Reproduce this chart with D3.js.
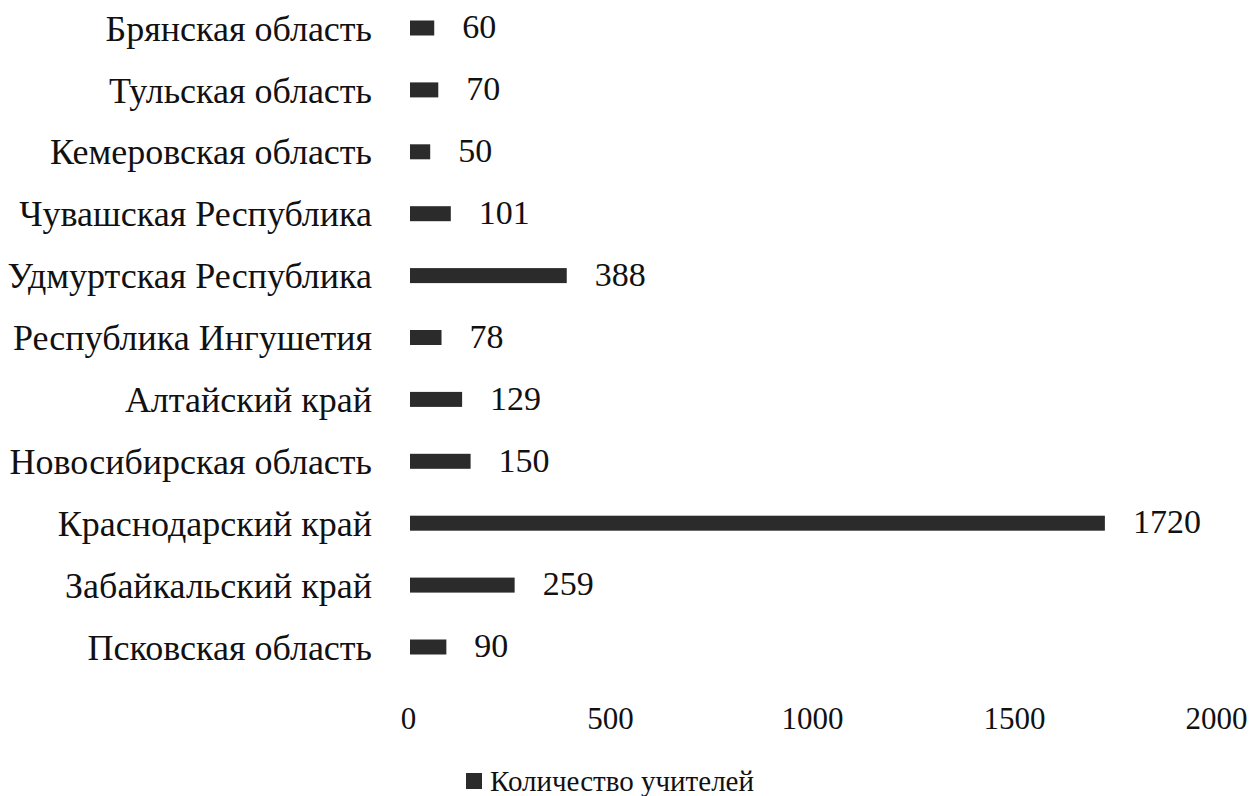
<!DOCTYPE html>
<html>
<head>
<meta charset="utf-8">
<script src="https://cdn.jsdelivr.net/npm/d3@7"></script>
<style>
  body { margin: 0; background: #fff; }
  text { font-family: "Liberation Serif", "DejaVu Serif", serif; fill: #111; }
</style>
</head>
<body>
<div id="chart"></div>
<script>
// data, top row first
const regions = [
	'Брянская область',
	'Тульская область',
	'Кемеровская область',
	'Чувашская Республика',
	'Удмуртская Республика',
	'Республика Ингушетия',
	'Алтайский край',
	'Новосибирская область',
	'Краснодарский край',
	'Забайкальский край',
	'Псковская область'
];
const teachers = [60, 70, 50, 101, 388, 78, 129, 150, 1720, 259, 90];
const xTicks = [0, 500, 1000, 1500, 2000];
const seriesName = 'Количество учителей';

const W = 1260, H = 796;
const barH = 15;

const svg = d3.select('#chart').append('svg')
	.attr('width', W)
	.attr('height', H);

const x = d3.scaleLinear().domain([0, 2000]).range([408, 1216]);
const y = d3.scalePoint().domain(regions).range([28, 647]);

// bars
svg.append('g').selectAll('rect')
	.data(regions)
	.enter()
	.append('rect')
	.attr('x', x(0) + 2)
	.attr('y', d => y(d) - barH / 2)
	.attr('width', (d, i) => x(teachers[i]) - x(0))
	.attr('height', barH)
	.attr('fill', '#2b2b2b');

// category labels
svg.append('g').selectAll('text')
	.data(regions)
	.enter()
	.append('text')
	.attr('x', 372)
	.attr('y', d => y(d))
	.attr('dy', '0.35em')
	.attr('text-anchor', 'end')
	.attr('font-size', '36px')
	.text(d => d);

// value labels
svg.append('g').selectAll('text')
	.data(teachers)
	.enter()
	.append('text')
	.attr('x', d => x(d) + 30)
	.attr('y', (d, i) => y(regions[i]))
	.attr('dy', '0.3em')
	.attr('font-size', '34px')
	.text(d => d);

// x axis, no line
const axis = svg.append('g')
	.attr('transform', 'translate(0,' + 707 + ')')
	.call(d3.axisBottom(x).tickValues(xTicks).tickFormat(d3.format('d')).tickSize(0).tickPadding(0));
axis.select('.domain').remove();
axis.selectAll('text')
	.attr('font-size', '31px')
	.attr('font-family', '"Liberation Serif", serif')
	.attr('fill', '#111');

// legend
const legend = svg.append('g').attr('transform', 'translate(466,781)');
legend.append('rect')
	.attr('x', 0).attr('y', -8)
	.attr('width', 16).attr('height', 16)
	.attr('fill', '#2b2b2b');
legend.append('text')
	.attr('x', 24)
	.attr('y', 0)
	.attr('dy', '0.35em')
	.attr('font-size', '29px')
	.text(seriesName);
</script>
</body>
</html>
